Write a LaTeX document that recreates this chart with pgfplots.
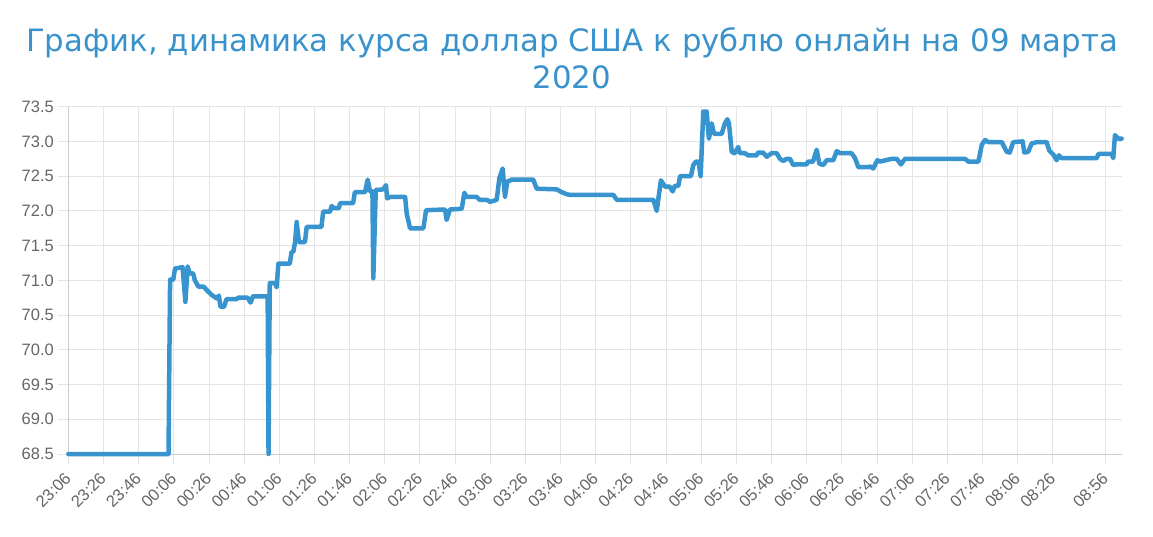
\documentclass[border=0pt]{standalone}
\usepackage{pgfplots}
\pgfplotsset{compat=1.18}
\usepackage{fontspec}
\setmainfont{Liberation Sans}
\newfontfamily\titlefont{DejaVu Sans}
\definecolor{titleblue}{RGB}{58,146,204}
\definecolor{lineblue}{RGB}{56,148,206}
\definecolor{gridc}{RGB}{228,228,228}
\definecolor{axisc}{RGB}{205,205,205}
\definecolor{tickc}{RGB}{102,102,102}
\begin{document}
\begin{tikzpicture}[x=1pt,y=1pt]
\useasboundingbox (0,0) rectangle (1153,536);
\node[anchor=base, text=titleblue, font=\titlefont\fontsize{30.8}{36}\selectfont, inner sep=0] at (572,484.3) {График, динамика курса доллар США к рублю онлайн на 09 марта};
\node[anchor=base, text=titleblue, font=\titlefont\fontsize{30.8}{36}\selectfont, inner sep=0] at (572,447) {2020};
\begin{axis}[
  at={(68.3pt,82pt)}, anchor=south west,
  scale only axis, width=1053.4pt, height=347.3pt,
  xmin=0, xmax=599.2, ymin=68.5, ymax=73.5,
  clip=false,
  axis line style={axisc, line width=0.8pt},
  grid=major, major grid style={gridc, line width=0.8pt},
  tick style={gridc, line width=0.8pt},
  tick align=outside, major tick length=10pt,
  xtick={0,20,...,560,590},
  xticklabels={23:06,23:26,23:46,00:06,00:26,00:46,01:06,01:26,01:46,02:06,02:26,02:46,03:06,03:26,03:46,04:06,04:26,04:46,05:06,05:26,05:46,06:06,06:26,06:46,07:06,07:26,07:46,08:06,08:26,08:56},
  ytick={68.5,69,...,73.5},
  yticklabel style={/pgf/number format/fixed, /pgf/number format/fixed zerofill, /pgf/number format/precision=1, xshift=-1pt},
  /pgf/number format/assume math mode=true,
  ticklabel style={text=tickc, font=\fontsize{16.5}{19}\selectfont},
  xticklabel style={xshift=2pt, yshift=-9pt, rotate=45, anchor=east},
  axis x line*=bottom, axis y line*=left,
]
\addplot[lineblue, line width=4.5pt, line join=round, line cap=round] coordinates {
(0,68.5) (57,68.5) (57.9,71.01) (59.7,71.01) (60.7,71.17) (65,71.19) (66.6,70.69) (67.9,71.2)
(69,71.1) (71,71.1) (72,71.0) (74,70.91) (77,70.91) (78.7,70.86) (81.6,70.79) (84.4,70.74)
(85.7,70.78) (86.5,70.62) (88.6,70.62) (90,70.73) (95.8,70.73) (96.6,70.75) (102,70.75)
(103.7,70.68) (105,70.77) (113.4,70.77) (113.9,68.5) (114.6,70.96) (117.6,70.96) (118.5,70.9)
(119.5,71.24) (126,71.24) (127,71.41) (128,71.41) (129,71.55) (129.9,71.84) (131.2,71.55)
(134.6,71.55) (135.6,71.77) (144,71.77) (145,71.99) (148.9,71.99) (149.8,72.07) (151,72.04)
(154,72.04) (154.5,72.11) (162,72.11) (163,72.27) (168.8,72.27) (170.3,72.45) (171.6,72.28)
(173.0,72.28) (173.5,71.03) (174.9,72.3) (179.2,72.31) (180.7,72.37) (181.4,72.18) (183,72.2)
(191.6,72.2) (192.5,71.96) (194.4,71.75) (202,71.75) (203.5,72.01) (214.3,72.02) (215.2,71.87)
(217.1,72.02) (223.8,72.03) (225.3,72.26) (226.6,72.2) (232.3,72.2) (234,72.16) (238,72.16)
(240,72.13) (243.7,72.16) (245.2,72.47) (247.1,72.61) (248.4,72.2) (249.7,72.42) (252.2,72.45)
(264.5,72.45) (266.4,72.32) (277.8,72.31) (280.6,72.27) (283.5,72.24) (285.4,72.23) (310,72.23)
(312,72.16) (316.7,72.16) (332.8,72.16) (334.7,72.0) (337.1,72.44) (339.4,72.35) (342,72.35)
(343.8,72.28) (345,72.36) (347,72.36) (348,72.5) (354.2,72.5) (355.5,72.66) (357,72.71)
(358.5,72.71) (359.7,72.5) (361.2,73.43) (363.1,73.43) (364.4,73.04) (366,73.26) (367.3,73.11)
(371.7,73.11) (373.5,73.26) (374.9,73.32) (375.8,73.26) (377.4,72.85) (379,72.83) (381.1,72.92)
(382,72.83) (385,72.83) (386.6,72.8) (391.6,72.8) (392.3,72.84) (395.2,72.84) (397.3,72.78)
(400,72.83) (403,72.83) (404.8,72.75) (406.7,72.72) (408.7,72.75) (410.5,72.75) (412.4,72.66)
(414.3,72.67) (420,72.67) (420.8,72.71) (423.6,72.71) (425.7,72.88) (427.2,72.68) (429.5,72.66)
(431.4,72.73) (435.2,72.73) (437.1,72.86) (439,72.83) (445.6,72.83) (447.5,72.76) (449.4,72.63)
(455.1,72.63) (456,72.64) (457.9,72.61) (460.2,72.73) (461.8,72.71) (465,72.73) (468.4,72.75)
(471.3,72.75) (473.6,72.67) (476,72.75) (510,72.75) (512,72.71) (517.7,72.71) (519.6,72.95)
(521.5,73.02) (523.4,72.99) (531,72.99) (533.8,72.85) (535.5,72.84) (537.5,72.99) (542.9,73.0)
(543.8,72.84) (546,72.85) (548,72.97) (550.9,72.99) (556.5,72.99) (558,72.87) (560.3,72.81)
(562.2,72.73) (563.5,72.8) (565,72.76) (585,72.76) (586,72.82) (593.5,72.82) (594.4,72.76)
(595.4,73.09) (597.3,73.04) (599.2,73.04)
};
\end{axis}
\end{tikzpicture}
\end{document}
